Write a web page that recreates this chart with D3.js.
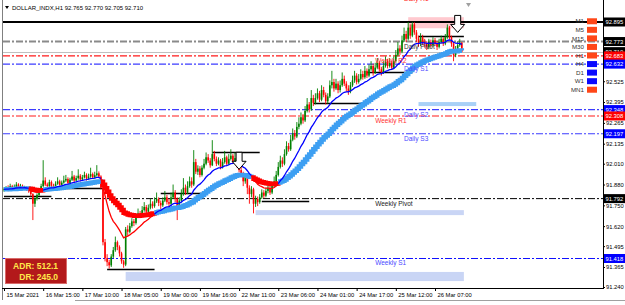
<!DOCTYPE html>
<html>
<head>
<meta charset="utf-8">
<script src="https://cdn.jsdelivr.net/npm/d3@7"></script>
<style>
body { margin: 0; background: #fff; }
svg { display: block; font-family: "Liberation Sans", Arial, sans-serif; }
</style>
</head>
<body>
<script>
// H1 bars, open of each bar = previous close
const firstOpen = 91.845;
const closes = [
91.850,91.862,91.845,91.870,91.858,91.866,91.880,91.860,91.872,91.855,
91.862,91.848,91.838,91.820,91.760,91.790,91.815,91.840,91.870,91.905,
91.880,91.870,91.895,91.872,91.860,91.885,91.900,91.878,91.892,91.905,
91.915,91.890,91.910,91.930,91.905,91.920,91.935,91.912,91.925,91.940,
91.918,91.930,91.945,91.925,91.938,91.950,91.930,91.860,91.520,91.420,
91.395,91.375,91.430,91.470,91.520,91.490,91.450,91.400,91.380,91.600,
91.585,91.620,91.650,91.640,91.680,91.700,91.690,91.720,91.740,91.710,
91.735,91.760,91.745,91.775,91.790,91.765,91.750,91.780,91.800,91.770,
91.760,91.800,91.830,91.790,91.740,91.780,91.820,91.860,91.830,91.870,
91.900,91.880,92.020,91.960,91.980,91.940,91.985,92.010,92.050,92.030,
92.000,92.070,92.040,92.010,92.030,91.990,92.020,92.050,92.010,92.040,
92.060,92.025,92.045,92.000,91.970,91.950,91.900,91.930,91.860,91.820,
91.850,91.760,91.790,91.770,91.800,91.830,91.810,91.840,91.860,91.830,
91.870,91.900,91.940,91.990,92.030,92.010,92.070,92.120,92.100,92.160,
92.200,92.180,92.240,92.260,92.300,92.280,92.340,92.380,92.350,92.420,
92.390,92.420,92.450,92.410,92.470,92.440,92.400,92.430,92.500,92.520,
92.480,92.510,92.470,92.500,92.540,92.510,92.480,92.460,92.500,92.530,
92.560,92.520,92.540,92.570,92.550,92.590,92.560,92.600,92.620,92.580,
92.610,92.640,92.600,92.580,92.620,92.650,92.620,92.640,92.610,92.650,
92.690,92.730,92.710,92.780,92.820,92.790,92.860,92.810,92.880,92.830,
92.790,92.760,92.800,92.770,92.760,92.740,92.770,92.750,92.780,92.760,
92.740,92.770,92.790,92.760,92.800,92.860,92.800,92.760,92.690,92.720,
92.750,92.765,92.710];
const highs = [
91.862,91.870,91.875,91.885,91.878,91.880,91.895,91.888,91.884,91.880,
91.872,91.868,91.855,91.845,91.826,91.800,91.825,91.852,91.885,92.032,
91.925,91.892,91.910,91.905,91.885,91.900,91.925,91.910,91.905,91.935,
91.940,91.925,91.922,91.965,91.940,91.935,91.975,91.945,91.940,91.960,
91.950,91.948,91.985,91.955,91.960,92.001,91.962,91.938,91.868,91.540,
91.445,91.410,91.445,91.490,91.555,91.530,91.500,91.460,91.410,91.615,
91.625,91.640,91.670,91.665,91.700,91.730,91.715,91.745,91.770,91.752,
91.755,91.790,91.775,91.800,91.830,91.800,91.780,91.800,91.840,91.815,
91.790,91.830,91.880,91.845,91.800,91.800,91.850,91.920,91.880,91.900,
91.930,91.925,92.095,92.040,92.000,91.995,92.000,92.040,92.080,92.070,
92.045,92.157,92.090,92.055,92.050,92.040,92.045,92.090,92.060,92.070,
92.100,92.070,92.080,92.055,92.015,91.990,91.960,91.945,91.940,91.875,
91.870,91.860,91.810,91.805,91.820,91.850,91.845,91.860,91.885,91.870,
91.890,91.930,91.965,92.020,92.060,92.050,92.100,92.150,92.140,92.190,
92.230,92.220,92.270,92.300,92.330,92.320,92.370,92.420,92.395,92.470,
92.440,92.450,92.480,92.465,92.500,92.490,92.455,92.450,92.530,92.590,
92.540,92.540,92.525,92.530,92.580,92.560,92.525,92.500,92.520,92.560,
92.590,92.575,92.570,92.600,92.590,92.620,92.605,92.630,92.650,92.635,
92.640,92.670,92.650,92.615,92.650,92.680,92.665,92.670,92.655,92.680,
92.720,92.770,92.750,92.810,92.860,92.840,92.895,92.880,92.895,92.893,
92.845,92.810,92.825,92.815,92.790,92.775,92.790,92.785,92.800,92.795,
92.775,92.790,92.810,92.800,92.820,92.880,92.870,92.810,92.770,92.745,
92.775,92.790,92.770];
const lows = [
91.835,91.842,91.838,91.840,91.850,91.852,91.860,91.852,91.855,91.846,
91.848,91.840,91.828,91.805,91.658,91.740,91.780,91.808,91.832,91.862,
91.870,91.855,91.862,91.860,91.848,91.852,91.878,91.868,91.870,91.885,
91.895,91.880,91.882,91.902,91.895,91.898,91.910,91.900,91.905,91.918,
91.905,91.910,91.922,91.915,91.918,91.930,91.920,91.850,91.500,91.400,
91.370,91.355,91.365,91.420,91.460,91.470,91.430,91.385,91.360,91.370,
91.560,91.575,91.610,91.620,91.630,91.670,91.670,91.680,91.710,91.695,
91.700,91.725,91.730,91.735,91.765,91.745,91.725,91.740,91.770,91.755,
91.735,91.750,91.790,91.770,91.658,91.725,91.770,91.810,91.815,91.820,
91.860,91.860,91.870,91.945,91.940,91.925,91.930,91.975,92.000,92.015,
91.985,91.995,92.025,91.995,92.000,91.975,91.980,92.010,91.995,92.000,
92.030,92.010,92.015,91.985,91.955,91.935,91.870,91.885,91.820,91.760,
91.800,91.700,91.740,91.745,91.760,91.790,91.795,91.800,91.825,91.815,
91.820,91.860,91.890,91.930,91.980,91.990,92.000,92.060,92.085,92.090,
92.150,92.160,92.170,92.225,92.250,92.260,92.270,92.330,92.330,92.340,
92.370,92.380,92.410,92.395,92.400,92.425,92.380,92.385,92.420,92.480,
92.460,92.470,92.450,92.455,92.490,92.495,92.460,92.440,92.450,92.490,
92.515,92.505,92.510,92.530,92.535,92.540,92.545,92.550,92.590,92.560,
92.570,92.600,92.585,92.560,92.570,92.610,92.605,92.610,92.595,92.600,
92.640,92.680,92.690,92.700,92.770,92.770,92.780,92.790,92.800,92.815,
92.770,92.740,92.745,92.750,92.735,92.720,92.725,92.735,92.740,92.745,
92.720,92.730,92.760,92.745,92.750,92.790,92.785,92.740,92.650,92.675,
92.705,92.740,92.705];

// time axis
const xLabels = ["15 Mar 2021","16 Mar 15:00","17 Mar 10:00","18 Mar 05:00","19 Mar 00:00","19 Mar 16:00",
  "22 Mar 11:00","23 Mar 06:00","24 Mar 01:00","24 Mar 17:00","25 Mar 12:00","26 Mar 07:00"];
const xLabelBars = [0,19,38,57,76,95,114,133,152,171,190,209];

// price axis (labels hidden behind the price tags are left out)
const yTicks = [91.240,91.365,91.495,91.620,91.750,91.880,92.010,92.135,92.265,92.395,92.525];

// pivot levels
const levelNames  = ["Daily R1","Daily Pivot","Weekly R2","Daily S1","Daily S2","Weekly R1","Daily S3","Weekly Pivot","Weekly S1"];
const levelPrices = [93.070,92.773,92.683,92.632,92.348,92.308,92.197,91.792,91.418];
const levelKinds  = ["dr","dp","wr","ds","ds","wr","ds","wp","ws"];

// price tags on the right axis
const tagPrices = [92.895,92.773,92.710,92.683,92.632,92.348,92.308,92.197,91.792,91.418];
const tagKinds  = ["k","k","k","r","b","b","r","b","k","b"];

// support / resistance segments (price, first bar, last bar)
const srPrices = [91.807,91.858,91.352,91.826,92.082,91.776,92.388,92.581,92.806];
const srFrom   = [0,23,50,76,101,125,150,176,201];
const srTo     = [23,48,73,98,124,148,174,198,223];

// zones
const zoneTop    = [92.925,92.395,91.720,91.334];
const zoneBottom = [92.856,92.370,91.689,91.277];
const zoneFrom   = [196,201,122,59];
const zoneTo     = [223,229,223,223];
const zoneKinds  = ["pink","sky","lav","lav"];

// signal arrows
const arrowBars   = [114,220];
const arrowPrices = [91.975,92.830];

// timeframe trend panel
const tfNames = ["M1","M5","M15","M30","H1","H4","D1","W1","MN1"];
const tfTrend = ["dn","dn","dn","dn","dn","up","up","up","dn"];

const adrValue = 512.1;
const drValue = 245.0;
const symbol = "DOLLAR_INDX,H1";

function main() {
    const width = 625, height = 305;
    const plotLeft = 3, plotRight = 603, plotBottom = 288;
    const small = 5.8;

    const bars = closes.map(function(c, i) {
        return { i: i, o: i === 0 ? firstOpen : closes[i - 1], h: highs[i], l: lows[i], c: c };
    });

    const svg = d3.select("body").append("svg")
        .attr("width", width)
        .attr("height", height)
        .style("background-color", "#fff");

    let xScale = d3.scaleLinear().domain([0, 209]).range([4, 435]);
    let yScale = d3.scaleLinear().domain([91.240, 92.895]).range([287, 22]);

    svg.append("clipPath").attr("id", "plot")
        .append("rect").attr("x", plotLeft).attr("y", 0)
        .attr("width", plotRight - plotLeft).attr("height", plotBottom);

    const g = svg.append("g").attr("clip-path", "url(#plot)");

    // zones
    const zoneFill = { pink: "#ffc9cf", sky: "#a9d1f7", lav: "#c9d5f5" };
    g.selectAll("rect.zone")
        .data(zoneTop.map((t, k) => k))
        .enter().append("rect")
        .attr("class", "zone")
        .attr("x", k => xScale(zoneFrom[k]))
        .attr("width", k => xScale(zoneTo[k]) - xScale(zoneFrom[k]))
        .attr("y", k => yScale(zoneTop[k]))
        .attr("height", k => yScale(zoneBottom[k]) - yScale(zoneTop[k]))
        .attr("fill", k => zoneFill[zoneKinds[k]]);

    // pivot lines
    const levelStroke = { dr: "#ff0000", dp: "#8a8a8a", wr: "#ff1a1a", ds: "#3c3cff", wp: "#000000", ws: "#1010ff" };
    const levelWidth  = { dr: 1, dp: 2, wr: 1.2, ds: 1.2, wp: 1, ws: 1.2 };
    const levelText   = { dr: "#ff2020", dp: "#333333", wr: "#ff3030", ds: "#4a4aff", wp: "#222222", ws: "#4a4aff" };

    // top line and bid line
    g.append("line")
        .attr("x1", plotLeft).attr("x2", plotRight)
        .attr("y1", yScale(tagPrices[0])).attr("y2", yScale(tagPrices[0]))
        .attr("stroke", "#000").attr("stroke-width", 2);
    g.append("line")
        .attr("x1", plotLeft).attr("x2", plotRight)
        .attr("y1", Math.round(yScale(closes[closes.length - 1])) + 0.5)
        .attr("y2", Math.round(yScale(closes[closes.length - 1])) + 0.5)
        .attr("stroke", "#c0c0c0").attr("stroke-width", 1);

    g.selectAll("line.level")
        .data(levelPrices.map((p, k) => k))
        .enter().append("line")
        .attr("class", "level")
        .attr("x1", plotLeft).attr("x2", plotRight)
        .attr("y1", k => yScale(levelPrices[k])).attr("y2", k => yScale(levelPrices[k]))
        .attr("stroke", k => levelStroke[levelKinds[k]])
        .attr("stroke-width", k => levelWidth[levelKinds[k]])
        .attr("stroke-dasharray", "7,2,2,2");

    // support / resistance segments
    g.selectAll("line.sr")
        .data(srPrices.map((p, k) => k))
        .enter().append("line")
        .attr("x1", k => xScale(srFrom[k])).attr("x2", k => xScale(srTo[k]))
        .attr("y1", k => Math.round(yScale(srPrices[k])) + 0.5)
        .attr("y2", k => Math.round(yScale(srPrices[k])) + 0.5)
        .attr("stroke", "#000").attr("stroke-width", 1.5);

    // candles
    const candle = g.selectAll("g.bar")
        .data(bars)
        .enter().append("g");
    candle.append("line")
        .attr("x1", d => xScale(d.i)).attr("x2", d => xScale(d.i))
        .attr("y1", d => yScale(d.h)).attr("y2", d => yScale(d.l))
        .attr("stroke", d => d.c >= d.o ? "#008000" : "#ff0000")
        .attr("stroke-width", 0.9);
    candle.append("rect")
        .attr("x", d => xScale(d.i) - 0.8)
        .attr("width", 1.6)
        .attr("y", d => yScale(Math.max(d.o, d.c)))
        .attr("height", d => Math.max(0.8, Math.abs(yScale(d.o) - yScale(d.c))))
        .attr("fill", d => d.c >= d.o ? "#008000" : "#ff0000");

    // moving averages
    function ema(period) {
        const k = 2 / (period + 1);
        let out = [], e = closes[0];
        closes.forEach(function(c) { e = e + k * (c - e); out.push(e); });
        return out;
    }
    const fast = ema(15);
    const slow = ema(40);
    const down = fast.map((f, i) => f < slow[i]);

    function runs() {
        let list = [], start = 0;
        for (let i = 1; i <= closes.length; i++) {
            if (i === closes.length || down[i] !== down[start]) {
                list.push({ from: Math.max(0, start - 1), to: i - 1, down: down[start] });
                start = i;
            }
        }
        return list;
    }
    const segs = runs();

    const slowLine = d3.line().x(i => xScale(i)).y(i => yScale(slow[i])).curve(d3.curveStepAfter);
    const fastLine = d3.line().x(i => xScale(i)).y(i => yScale(fast[i]));

    g.selectAll("path.slow")
        .data(segs).enter().append("path")
        .attr("d", s => slowLine(d3.range(s.from, s.to + 1)))
        .attr("fill", "none")
        .attr("stroke", s => s.down ? "#ff0000" : "#3d9ff2")
        .attr("stroke-width", 4.5);

    g.selectAll("path.fast")
        .data(segs).enter().append("path")
        .attr("d", s => fastLine(d3.range(s.from, s.to + 1)))
        .attr("fill", "none")
        .attr("stroke", s => s.down ? "#ff0000" : "#0000ff")
        .attr("stroke-width", 1.3);

    // arrows
    g.selectAll("path.arrow")
        .data(arrowBars.map((b, k) => k))
        .enter().append("path")
        .attr("transform", k => "translate(" + xScale(arrowBars[k]) + "," + yScale(arrowPrices[k]) + ")")
        .attr("d", "M-3,-17L3,-17L3,-8L7,-8L0,0L-7,-8L-3,-8Z")
        .attr("fill", "#fff").attr("stroke", "#000").attr("stroke-width", 1);

    // level labels
    g.selectAll("text.level")
        .data(levelPrices.map((p, k) => k))
        .enter().append("text")
        .attr("x", k => xScale(levelNames[k].startsWith("Daily") ? 194 : 180))
        .attr("y", k => yScale(levelPrices[k]) + 7)
        .attr("font-size", 6.5)
        .attr("fill", k => levelText[levelKinds[k]])
        .text(k => levelNames[k]);

    // timeframe panel
    let tfScale = d3.scaleBand().domain(tfNames).range([17, 94]);
    const tf = svg.append("g");
    tf.selectAll("text").data(tfNames).enter().append("text")
        .attr("x", 584).attr("y", d => tfScale(d) + tfScale.bandwidth() / 2 + 2.2)
        .attr("text-anchor", "end").attr("font-size", 6.2).attr("fill", "#333")
        .text(d => d);
    tf.selectAll("rect").data(tfNames).enter().append("rect")
        .attr("x", 587).attr("width", 10)
        .attr("y", d => tfScale(d) + tfScale.bandwidth() / 2 - 3).attr("height", 6)
        .attr("fill", (d, i) => tfTrend[i] === "up" ? "#0a0aff" : "#ff4718");

    // frame
    svg.append("line").attr("x1", 2.5).attr("x2", 2.5).attr("y1", 0).attr("y2", 300)
        .attr("stroke", "#808080");
    svg.append("line").attr("x1", plotRight + 0.5).attr("x2", plotRight + 0.5).attr("y1", 0).attr("y2", plotBottom + 1)
        .attr("stroke", "#000");
    svg.append("line").attr("x1", 2).attr("x2", plotRight + 1).attr("y1", plotBottom + 0.5).attr("y2", plotBottom + 0.5)
        .attr("stroke", "#000");
    svg.append("line").attr("x1", 75).attr("x2", width).attr("y1", 300.5).attr("y2", 300.5)
        .attr("stroke", "#a0a0a0");

    // price axis
    const yAxis = svg.append("g")
        .attr("transform", "translate(" + plotRight + ",0)")
        .call(d3.axisRight(yScale).tickValues(yTicks).tickFormat(d3.format(".3f")).tickSizeInner(2).tickSizeOuter(0));
    yAxis.select(".domain").remove();
    yAxis.selectAll("text").attr("font-size", small).attr("font-family", "Liberation Sans, Arial, sans-serif")
        .attr("x", 3).attr("fill", "#000");

    // price tags
    const tagFill = { k: "#000000", r: "#ff0000", b: "#0000ff" };
    const tags = svg.append("g");
    tagPrices.forEach(function(p, k) {
        const y = yScale(p);
        tags.append("rect").attr("x", plotRight + 1).attr("y", y - 4.5).attr("width", 22).attr("height", 9)
            .attr("fill", tagFill[tagKinds[k]]);
        tags.append("text").attr("x", plotRight + 2.5).attr("y", y + 2.2)
            .attr("font-size", small).attr("fill", "#fff").text(d3.format(".3f")(p));
    });

    // time axis
    const xAxis = svg.append("g")
        .attr("transform", "translate(0," + plotBottom + ")")
        .call(d3.axisBottom(xScale).tickValues(xLabelBars).tickFormat((d, i) => xLabels[i]).tickSizeInner(3).tickSizeOuter(0));
    xAxis.select(".domain").remove();
    xAxis.selectAll("text").attr("font-size", small).attr("font-family", "Liberation Sans, Arial, sans-serif")
        .attr("text-anchor", "start").attr("x", 2).attr("y", 5).attr("fill", "#000");

    // header
    const last = bars[bars.length - 1];
    const f3 = d3.format(".3f");
    svg.append("path").attr("d", "M5,6L9,6L7,9Z").attr("fill", "#000");
    svg.append("text").attr("x", 12).attr("y", 10).attr("font-size", 6).attr("fill", "#000")
        .text(symbol + "  " + [last.o, last.h, last.l, last.c].map(f3).join(" "));
    svg.append("path").attr("d", "M466,3L471,3L468.5,7Z").attr("fill", "#a0a0a0");

    // ADR box
    svg.append("rect").attr("x", 5.5).attr("y", 258.5).attr("width", 61).attr("height", 25)
        .attr("fill", "#b3191b").attr("stroke", "#d86a6a");
    svg.append("text").attr("x", 58).attr("y", 269).attr("text-anchor", "end")
        .attr("font-size", 8.5).attr("font-weight", "bold").attr("fill", "#ffe84a")
        .text("ADR: " + d3.format(".1f")(adrValue));
    svg.append("text").attr("x", 58).attr("y", 280).attr("text-anchor", "end")
        .attr("font-size", 8.5).attr("font-weight", "bold").attr("fill", "#ffe84a")
        .text("DR: " + d3.format(".1f")(drValue));
}

main();
</script>
</body>
</html>
